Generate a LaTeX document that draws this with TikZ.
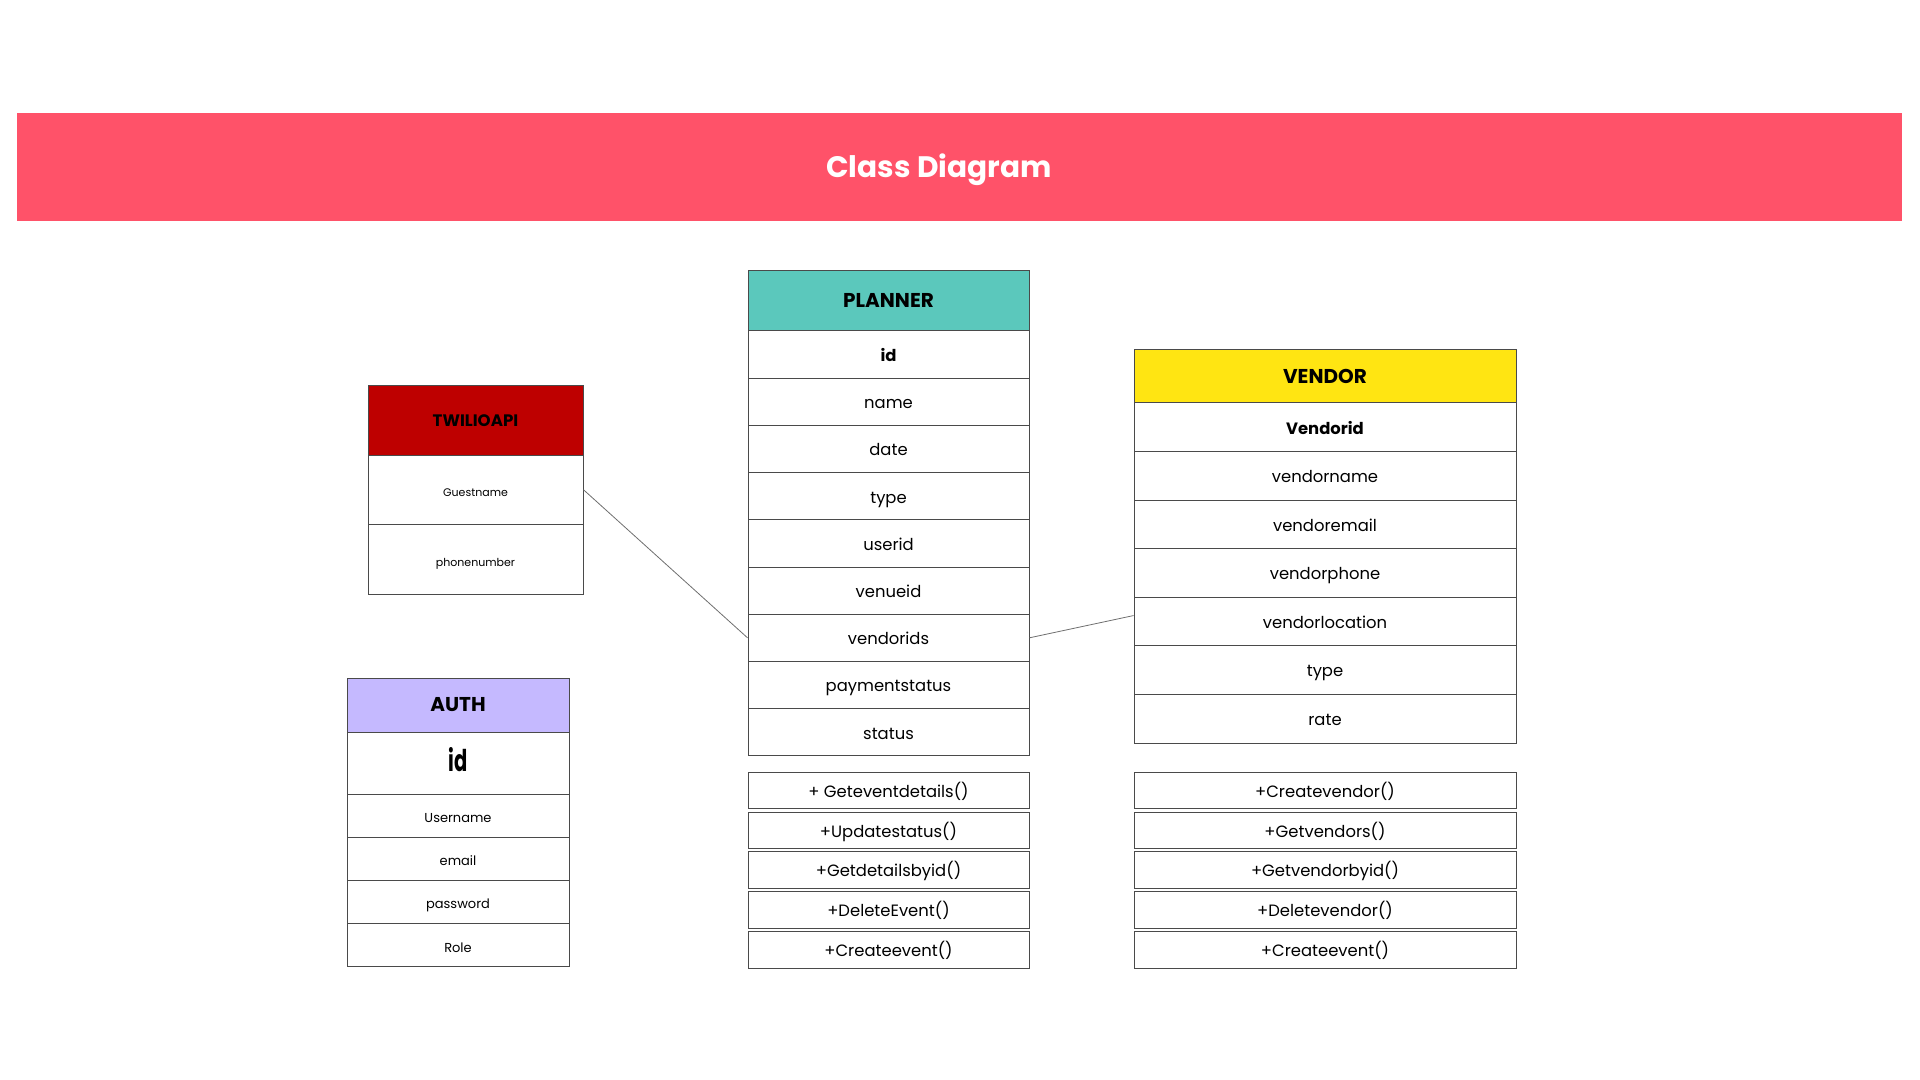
\documentclass[tikz,border=0pt]{standalone}
\usepackage{fontspec}
\setmainfont{Poppins}
\usepackage{graphicx}
\definecolor{banner}{HTML}{FF5269}
\definecolor{tealhead}{HTML}{5BC8BC}
\definecolor{yellowhead}{HTML}{FFE512}
\definecolor{redhead}{HTML}{BE0000}
\definecolor{lilachead}{HTML}{C5B9FF}
\definecolor{edge}{HTML}{4A4A4A}
\tikzset{
  row/.style={draw=edge, line width=0.5pt, fill=white, inner sep=0pt, text height=0.9em, text depth=0.22em, font=\fontsize{8.2}{10}\selectfont},
  head/.style={row, font=\fontsize{10}{11}\selectfont\bfseries},
  link/.style={draw=edge!80, line width=0.4pt},
}
\begin{document}
\begin{tikzpicture}[x=0.5pt,y=-0.5pt]
\useasboundingbox (0,0) rectangle (1920,1080);
% Draw banner
  \fill[banner] (17,113) rectangle (1902,221);
  \node[text=white, font=\fontsize{14.8}{17}\selectfont\bfseries] (title) at (939,170) {Class Diagram};

% PLANNER
  \node[head, fill=tealhead, minimum width=140.5pt, minimum height=30pt] (planner) at (888.5,301) {PLANNER};
  \foreach \t [count=\n] in {\textbf{id},name,date,type,userid,venueid,vendorids,paymentstatus,status} {
    \node[row, minimum width=140.5pt, minimum height=23.6pt] (pl\n) at (888.5,{331+47.2*(\n-0.5)}) {\t};
  }
  \foreach \t [count=\n] in {+ Geteventdetails(),+Updatestatus(),+Getdetailsbyid(),+DeleteEvent(),+Createevent()} {
    \node[row, minimum width=140.5pt, minimum height=18.3pt] (pm\n) at (888.5,{790.5+39.8*(\n-1)}) {\t};
  }

% VENDOR
  \node[head, fill=yellowhead, minimum width=191pt, minimum height=26.5pt] (vendor) at (1325,376.5) {VENDOR};
  \foreach \t [count=\n] in {\textbf{Vendorid},vendorname,vendoremail,vendorphone,vendorlocation,type,rate} {
    \node[row, minimum width=191pt, minimum height=24.3pt] (vn\n) at (1325,{403+48.57*(\n-0.5)}) {\t};
  }
  \foreach \t [count=\n] in {+Createvendor(),+Getvendors(),+Getvendorbyid(),+Deletevendor(),+Createevent()} {
    \node[row, minimum width=191pt, minimum height=18.3pt] (vm\n) at (1325,{790.5+39.8*(\n-1)}) {\t};
  }

% TWILIOAPI
  \node[head, fill=redhead, minimum width=107.5pt, minimum height=35pt, font=\fontsize{8.3}{9}\selectfont\bfseries] (twilio) at (475.5,420) {TWILIOAPI};
  \foreach \t [count=\n] in {Guestname,phonenumber} {
    \node[row, minimum width=107.5pt, minimum height=34.75pt, font=\fontsize{5.5}{6}\selectfont] (tw\n) at (475.5,{455+69.5*(\n-0.5)}) {\t};
  }

% AUTH
  \node[head, fill=lilachead, minimum width=111pt, minimum height=27pt] (auth) at (458,705) {AUTH};
  \node[row, minimum width=111pt, minimum height=31pt, text height=1.1em, font=\fontsize{15}{16}\selectfont] (au0) at (458,763) {\scalebox{0.65}[1]{\textbf{id}}};
  \foreach \t [count=\n] in {Username,email,password,Role} {
    \node[row, minimum width=111pt, minimum height=21.6pt, font=\fontsize{6.5}{7}\selectfont] (au\n) at (458,{794+43.25*(\n-0.5)}) {\t};
  }

% Draw links
  \draw[link] (tw1.east) -- (pl7.west);
  \draw[link] (pl7.east) -- ([yshift=3pt]vn5.west);
\end{tikzpicture}
\end{document}
